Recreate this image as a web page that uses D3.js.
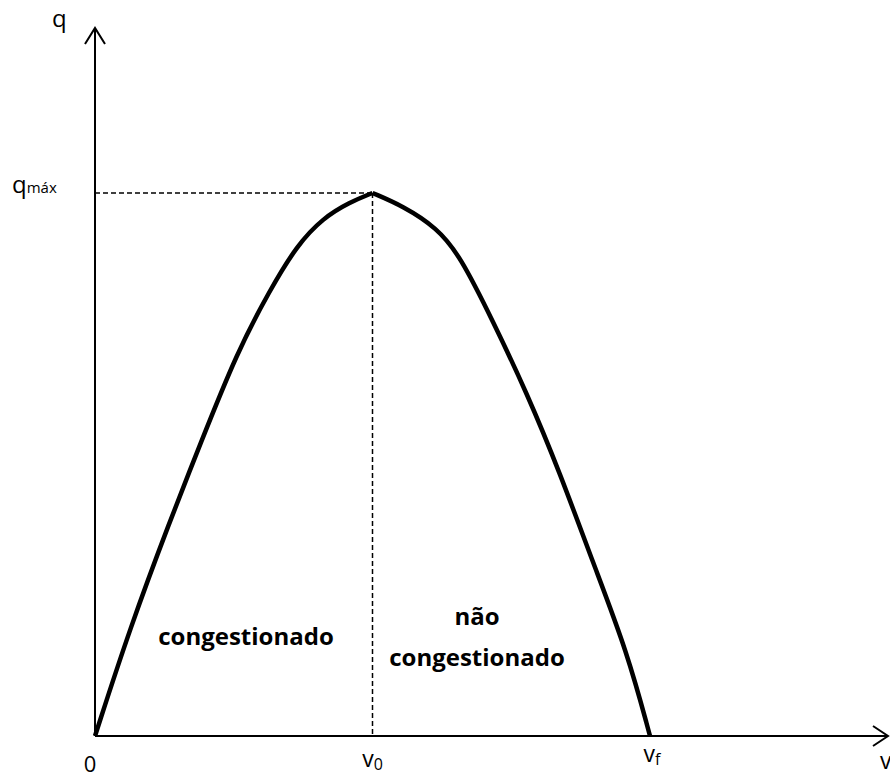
<!DOCTYPE html>
<html>
<head>
<meta charset="utf-8">
<script src="https://cdn.jsdelivr.net/npm/d3@7"></script>
<style>
  body { margin: 0; background: #fff; }
  text { font-family: "Open Sans", "Liberation Sans", sans-serif; fill: #000; }
</style>
</head>
<body>
<div id="chart"></div>
<script>
// curve (v in % of vf, q in % of qmax)
var congV = [0, 6.3, 13.5, 18.9, 25.6, 31.5, 36.4, 41.1, 45.9, 50];
var congQ = [0, 19.9, 39.6, 53.6, 70.7, 82.1, 90.4, 95.4, 98.3, 100];
var freeV = [50, 55.5, 61.6, 65.8, 71.7, 77.8, 83.8, 89.7, 95.9, 100];
var freeQ = [100, 97.6, 93.6, 88.4, 76.4, 63.2, 48.4, 32.0, 15.5, 0];
var v0 = 50, vf = 100, qmax = 100;

var width = 890, height = 772;

var svg = d3.select('#chart')
  .append('svg')
  .attr('width', width)
  .attr('height', height);

// set the scales
var x = d3.scaleLinear().domain([0, 100]).range([95, 650]);
var y = d3.scaleLinear().domain([0, 100]).range([736, 193]);

var xEnd = 888, yTop = 28;

// axes
svg.append('line')
  .attr('x1', x(0)).attr('y1', y(0))
  .attr('x2', xEnd).attr('y2', y(0))
  .attr('stroke', 'black').attr('stroke-width', 2);
svg.append('line')
  .attr('x1', x(0)).attr('y1', y(0))
  .attr('x2', x(0)).attr('y2', yTop)
  .attr('stroke', 'black').attr('stroke-width', 2);

// arrow heads
svg.append('path')
  .attr('d', 'M' + (x(0) - 10) + ',' + (yTop + 16) + 'L' + x(0) + ',' + yTop + 'L' + (x(0) + 10) + ',' + (yTop + 16))
  .attr('fill', 'none').attr('stroke', 'black').attr('stroke-width', 2);
svg.append('path')
  .attr('d', 'M' + (xEnd - 15) + ',' + (y(0) - 10) + 'L' + xEnd + ',' + y(0) + 'L' + (xEnd - 15) + ',' + (y(0) + 10))
  .attr('fill', 'none').attr('stroke', 'black').attr('stroke-width', 2);

// dashed guides
svg.append('line')
  .attr('x1', x(0)).attr('y1', y(qmax))
  .attr('x2', x(v0)).attr('y2', y(qmax))
  .attr('stroke', 'black').attr('stroke-width', 1.5)
  .attr('stroke-dasharray', '5,3');
svg.append('line')
  .attr('x1', x(v0)).attr('y1', y(qmax))
  .attr('x2', x(v0)).attr('y2', y(0))
  .attr('stroke', 'black').attr('stroke-width', 1.5)
  .attr('stroke-dasharray', '5,3');

// the curve, two branches meeting at the peak
var line = d3.line()
  .x(function(d) { return x(d[0]); })
  .y(function(d) { return y(d[1]); })
  .curve(d3.curveBasis);

[[congV, congQ], [freeV, freeQ]].forEach(function(s) {
  svg.append('path')
    .datum(d3.zip(s[0], s[1]))
    .attr('d', line)
    .attr('fill', 'none')
    .attr('stroke', 'black')
    .attr('stroke-width', 4.5)
    .attr('stroke-linejoin', 'round');
});

// axis labels
svg.append('text').attr('x', 52).attr('y', 27).style('font-size', '24px').text('q');

var qm = svg.append('text').attr('x', 12).attr('y', 193).style('font-size', '24px');
qm.append('tspan').text('q');
qm.append('tspan').style('font-size', '15px').text('máx');

svg.append('text').attr('x', x(0) - 5).attr('y', 772)
  .style('font-size', '22px').style('text-anchor', 'middle').text('0');

var t0 = svg.append('text').attr('x', x(v0)).attr('y', 767)
  .style('font-size', '23px').style('text-anchor', 'middle');
t0.append('tspan').text('v');
t0.append('tspan').attr('dy', 3).style('font-size', '16px').text('0');

var tf = svg.append('text').attr('x', x(vf) + 2).attr('y', 762)
  .style('font-size', '23px').style('text-anchor', 'middle');
tf.append('tspan').text('v');
tf.append('tspan').attr('dy', 3).style('font-size', '16px').text('f');

svg.append('text').attr('x', 880).attr('y', 769).style('font-size', '23px').text('v');

// region labels
svg.append('text').attr('x', 246).attr('y', 645)
  .style('font-size', '24px').style('font-weight', 'bold').style('text-anchor', 'middle')
  .text('congestionado');
svg.append('text').attr('x', 477).attr('y', 625)
  .style('font-size', '24px').style('font-weight', 'bold').style('text-anchor', 'middle')
  .text('não');
svg.append('text').attr('x', 477).attr('y', 666)
  .style('font-size', '24px').style('font-weight', 'bold').style('text-anchor', 'middle')
  .text('congestionado');
</script>
</body>
</html>
